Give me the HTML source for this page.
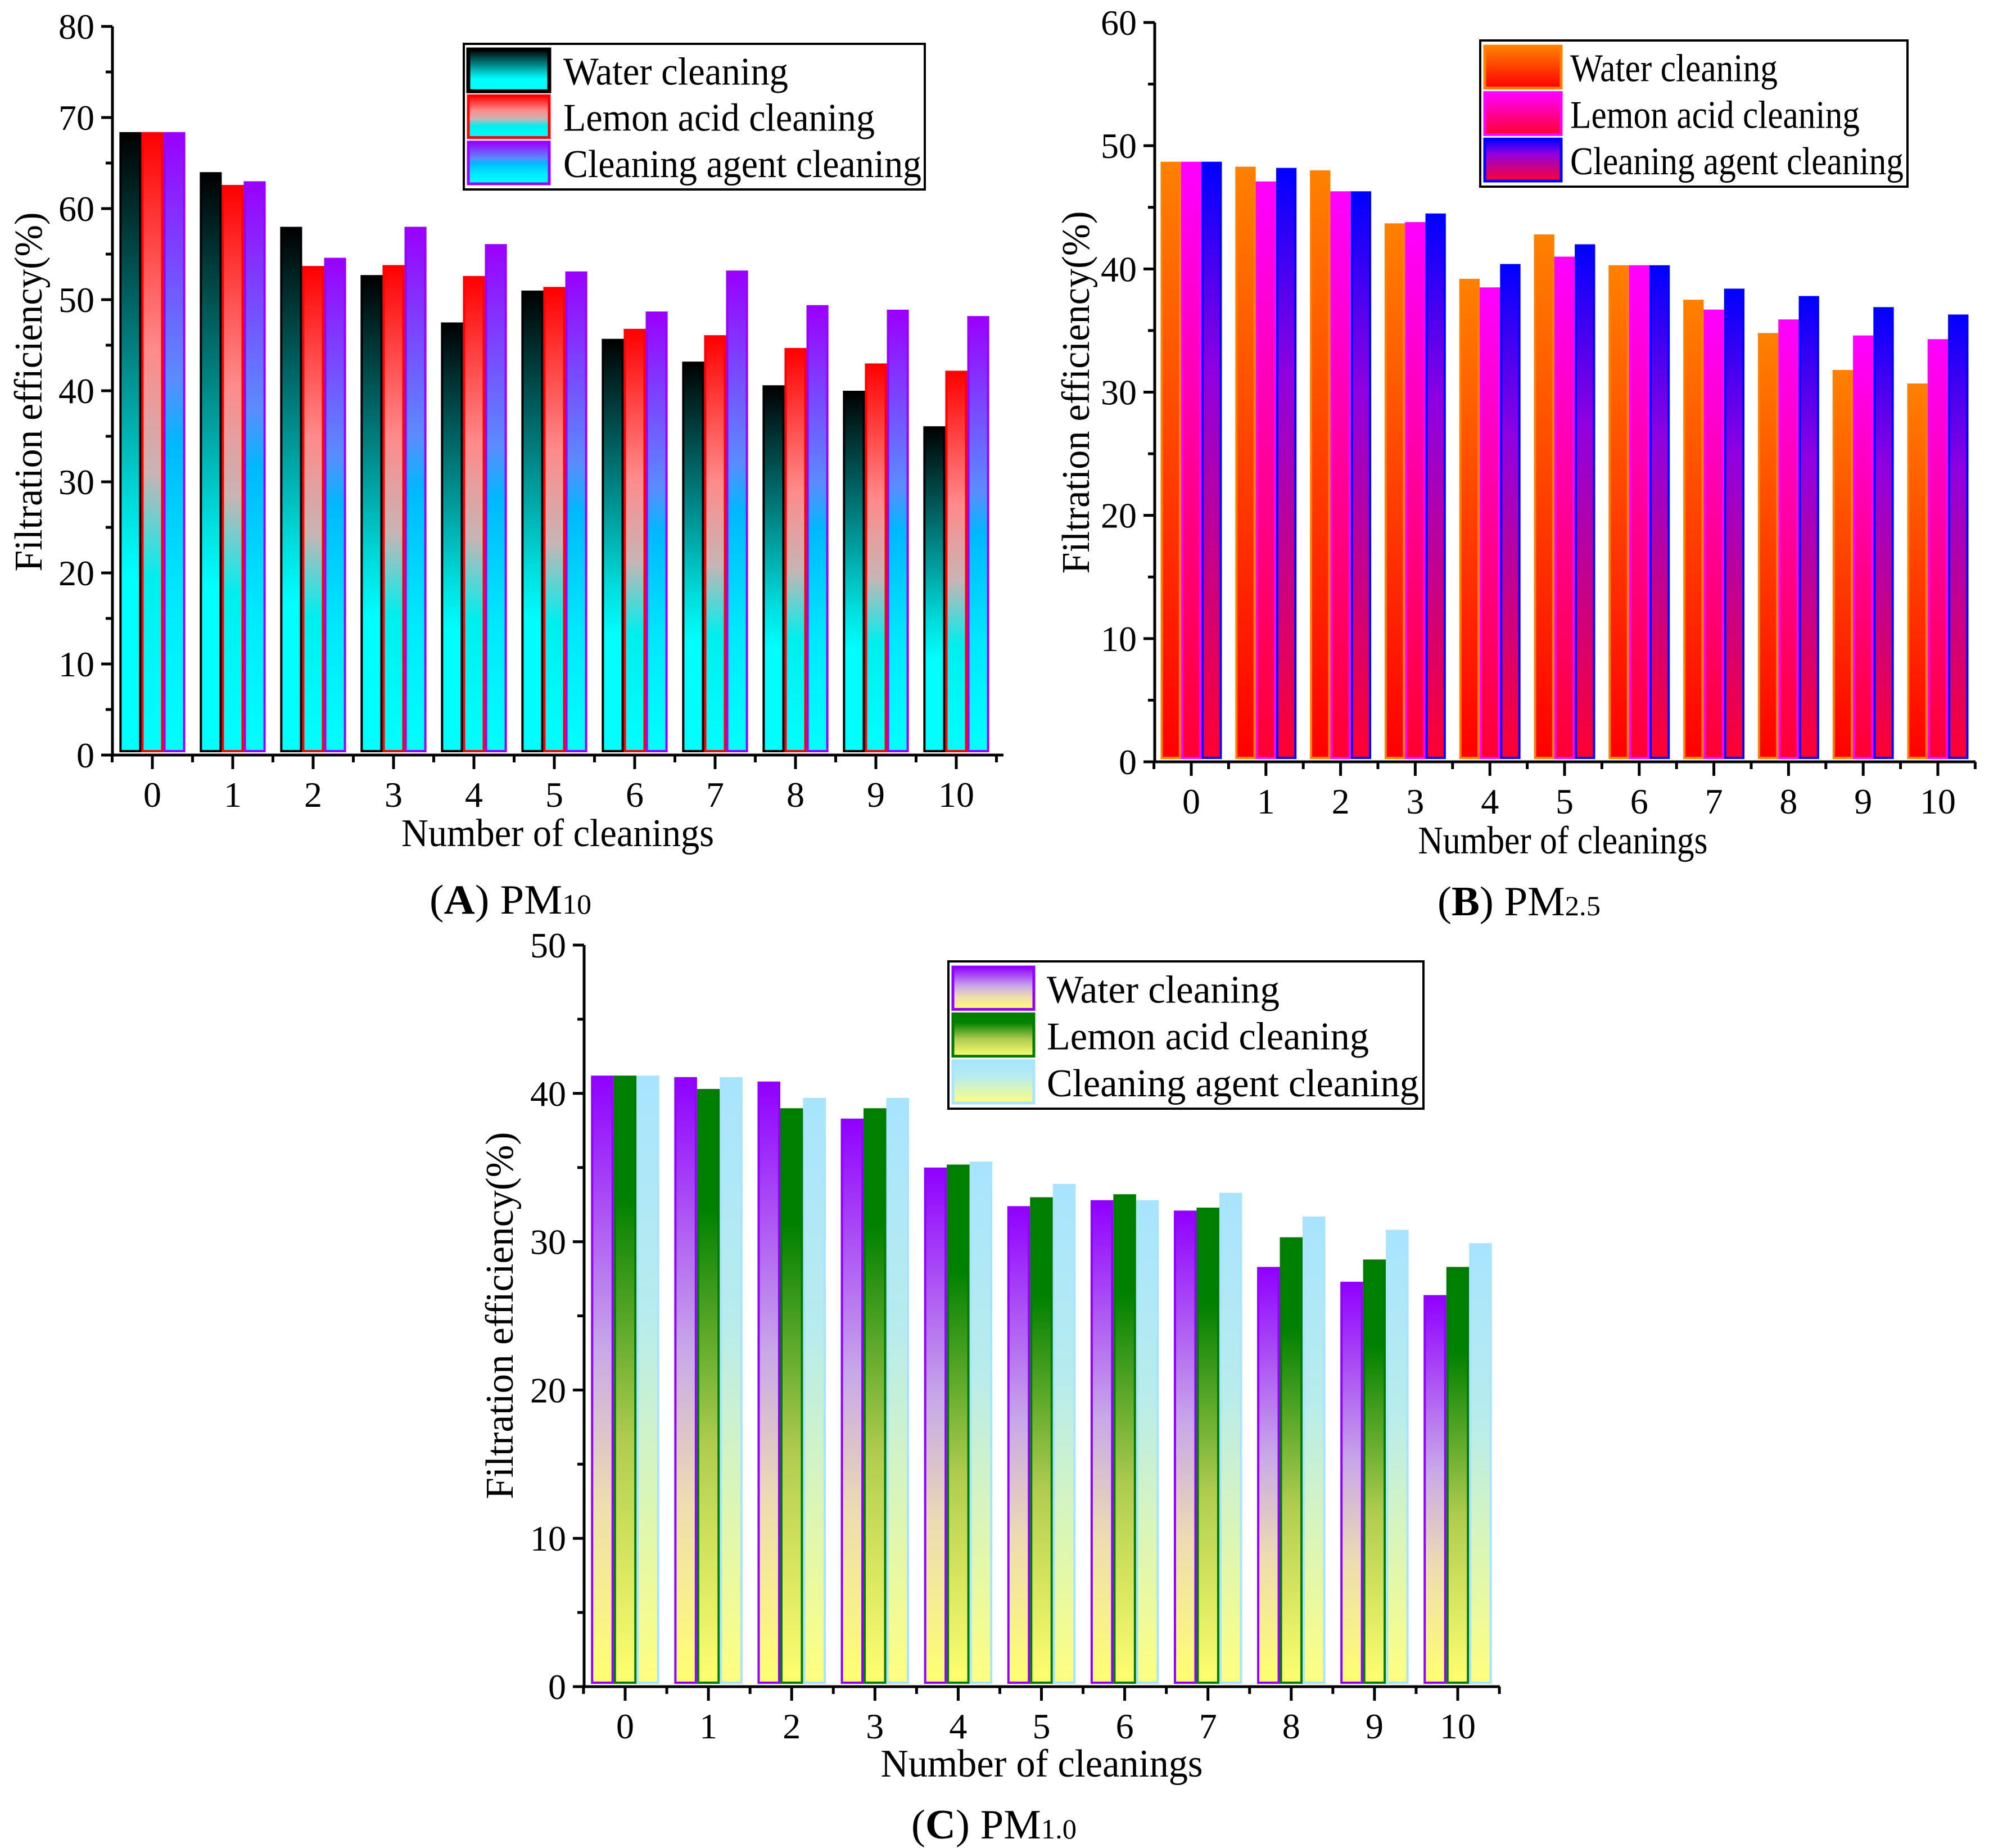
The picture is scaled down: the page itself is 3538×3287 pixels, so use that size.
<!DOCTYPE html>
<html><head><meta charset="utf-8"><style>
html,body{margin:0;padding:0;background:#fff}
svg{display:block}
svg text{font-family:"Liberation Serif","DejaVu Serif",serif}
</style></head><body>
<svg id="fig" width="3538" height="3287" viewBox="0 0 3538 3287" xmlns="http://www.w3.org/2000/svg" font-family="Liberation Serif, DejaVu Serif, serif">
<defs>
<linearGradient id="gA0" x1="0" y1="0" x2="0" y2="1"><stop offset="0" stop-color="#000"/><stop offset="0.6" stop-color="#00dcdc"/><stop offset="0.72" stop-color="#00ffff"/><stop offset="1" stop-color="#00ffff"/></linearGradient>
<linearGradient id="gA1" x1="0" y1="0" x2="0" y2="1"><stop offset="0" stop-color="#ff0000"/><stop offset="0.35" stop-color="#ff8a8a"/><stop offset="0.55" stop-color="#c8b4b4"/><stop offset="0.72" stop-color="#00eeee"/><stop offset="1" stop-color="#00ffff"/></linearGradient>
<linearGradient id="gA2" x1="0" y1="0" x2="0" y2="1"><stop offset="0" stop-color="#9a00ff"/><stop offset="0.4" stop-color="#5a8cff"/><stop offset="0.5" stop-color="#00b8ff"/><stop offset="0.75" stop-color="#00e8ff"/><stop offset="1" stop-color="#00ffff"/></linearGradient>
<linearGradient id="gB0" x1="0" y1="0" x2="0" y2="1"><stop offset="0" stop-color="#ff8000"/><stop offset="1" stop-color="#ff0000"/></linearGradient>
<linearGradient id="gB1" x1="0" y1="0" x2="0" y2="1"><stop offset="0" stop-color="#ff00ff"/><stop offset="1" stop-color="#ff0030"/></linearGradient>
<linearGradient id="gB2" x1="0" y1="0" x2="0" y2="1"><stop offset="0" stop-color="#0000ff"/><stop offset="0.35" stop-color="#9000e0"/><stop offset="1" stop-color="#ff0030"/></linearGradient>
<linearGradient id="gC0" x1="0" y1="0" x2="0" y2="1"><stop offset="0" stop-color="#9000ff"/><stop offset="0.45" stop-color="#c8a8e8"/><stop offset="0.7" stop-color="#eedcb0"/><stop offset="1" stop-color="#ffff70"/></linearGradient>
<linearGradient id="gC1" x1="0" y1="0" x2="0" y2="1"><stop offset="0" stop-color="#008000"/><stop offset="0.2" stop-color="#008000"/><stop offset="0.6" stop-color="#b0cc50"/><stop offset="1" stop-color="#ffff70"/></linearGradient>
<linearGradient id="gC2" x1="0" y1="0" x2="0" y2="1"><stop offset="0" stop-color="#a8e4ff"/><stop offset="0.4" stop-color="#b8ecec"/><stop offset="1" stop-color="#ffff80"/></linearGradient>
</defs>
</svg>
<script>
const categories = [0,1,2,3,4,5,6,7,8,9,10];
const seriesNames = ["Water cleaning","Lemon acid cleaning","Cleaning agent cleaning"];
const pm10Water  = [68.4,64.0,58.0,52.7,47.5,51.0,45.7,43.2,40.6,40.0,36.1];
const pm10Lemon  = [68.4,62.6,53.7,53.8,52.6,51.4,46.8,46.1,44.7,43.0,42.2];
const pm10Agent  = [68.4,63.0,54.6,58.0,56.1,53.1,48.7,53.2,49.4,48.9,48.2];
const pm25Water  = [48.7,48.3,48.0,43.7,39.2,42.8,40.3,37.5,34.8,31.8,30.7];
const pm25Lemon  = [48.7,47.1,46.3,43.8,38.5,41.0,40.3,36.7,35.9,34.6,34.3];
const pm25Agent  = [48.7,48.2,46.3,44.5,40.4,42.0,40.3,38.4,37.8,36.9,36.3];
const pm1Water   = [41.2,41.1,40.8,38.3,35.0,32.4,32.8,32.1,28.3,27.3,26.4];
const pm1Lemon   = [41.2,40.3,39.0,39.0,35.2,33.0,33.2,32.3,30.3,28.8,28.3];
const pm1Agent   = [41.2,41.1,39.7,39.7,35.4,33.9,32.8,33.3,31.7,30.8,29.9];
const yTicksA = [0,10,20,30,40,50,60,70,80];
const yTicksB = [0,10,20,30,40,50,60];
const yTicksC = [0,10,20,30,40,50];

const NS = "http://www.w3.org/2000/svg";
const FONT = '"Liberation Serif", "DejaVu Serif", serif';
const svg = document.getElementById('fig');
function mk(tag, attrs, parent){const e=document.createElementNS(NS,tag);for(const k in attrs)e.setAttribute(k,attrs[k]);if(tag==='text')e.style.fontFamily=FONT;(parent||svg).appendChild(e);return e;}

function drawChart(c){
  const g = mk('g',{});
  
  
  const yMax = c.yTicks[c.yTicks.length-1];
  const ys = v => c.y0 - (c.y0 - c.yTop) * v / yMax;
  const xs = i => c.x0cat + i * c.sp;
  const gw = c.sp * 0.82, bw = gw / 3;
  c.series.forEach((arr, s) => {
    arr.forEach((v, i) => {
      const x = xs(i) - gw/2 + s*bw;
      const top = ys(v), bot = c.y0 - 7;
      const r = mk('rect',{x:x+2,y:top+2,width:bw-4,height:Math.max(0,bot-top-2),fill:'url(#'+c.grads[s]+')',stroke:c.strokes[s],'stroke-width':4},g);
      
      
    });
  });
  const ax = mk('path',{d:`M${c.ax} ${c.yTop} V${c.y0} H${c.xEnd}`,stroke:'#000','stroke-width':5,fill:'none'},g);
  
  
  c.yTicks.forEach((t, k) => {
    const y = ys(t);
    mk('line',{x1:c.ax-20,x2:c.ax,y1:y,y2:y,stroke:'#000','stroke-width':5},g);
    if (k < c.yTicks.length-1) { const ym = ys(t+5); mk('line',{x1:c.ax-12,x2:c.ax,y1:ym,y2:ym,stroke:'#000','stroke-width':5},g); }
    const tx = mk('text',{x:c.ax-32,y:y+22,'text-anchor':'end','font-size':64},g);
    tx.textContent = t;
    
    
  });
  categories.forEach((cat, i) => {
    const x = xs(i);
    mk('line',{x1:x,x2:x,y1:c.y0,y2:c.y0+25,stroke:'#000','stroke-width':5},g);
    mk('line',{x1:x-c.sp/2,x2:x-c.sp/2,y1:c.y0,y2:c.y0+13,stroke:'#000','stroke-width':5},g);
    const tx = mk('text',{x:x,y:c.y0+92,'text-anchor':'middle','font-size':64},g);
    tx.textContent = cat;
    
    
  });
  mk('line',{x1:xs(10)+c.sp/2,x2:xs(10)+c.sp/2,y1:c.y0,y2:c.y0+13,stroke:'#000','stroke-width':5},g);
  const xt = mk('text',{x:c.xtX - c.xtW/2,y:c.xtY,'font-size':70,textLength:c.xtW,lengthAdjust:'spacingAndGlyphs'},g);
  xt.textContent = 'Number of cleanings';
  
  
  const yt = mk('text',{x:-c.ytW/2,y:0,'font-size':70,textLength:c.ytW,lengthAdjust:'spacingAndGlyphs',transform:`translate(${c.ytX},${c.ytY}) rotate(-90)`},g);
  yt.textContent = 'Filtration efficiency(%)';
  
  
  const cap = mk('text',{x:c.capX - c.capW/2,y:c.capY,'font-size':74,textLength:c.capW,lengthAdjust:'spacingAndGlyphs'},g);
  cap.innerHTML = '(<tspan font-weight="bold">' + c.letter + '</tspan>) PM<tspan font-size="50">' + c.sub + '</tspan>';
  
  
  const lg = mk('g',{},g);
  
  
  mk('rect',{x:c.lx,y:c.ly,width:c.lw,height:c.lh,fill:'#fff',stroke:'#000','stroke-width':4},lg);
  const rowH = (c.lh - 12) / 3;
  seriesNames.forEach((n, s) => {
    const ry = c.ly + 8 + s*rowH;
    const sw = mk('rect',{x:c.lx+8,y:ry+2,width:c.swW,height:rowH-8,fill:'url(#'+c.grads[s]+')',stroke:c.strokes[s],'stroke-width':s===0&&c.id==='pm10'?7:5},lg);
    
    
    const t = mk('text',{x:c.lx+c.txOff,y:ry+rowH-18,'font-size':70,textLength:c.legW[s],lengthAdjust:'spacingAndGlyphs'},lg);
    t.textContent = n;
    
    
  });
}

drawChart({id:'pm10',series:[pm10Water,pm10Lemon,pm10Agent],yTicks:yTicksA,grads:['gA0','gA1','gA2'],strokes:['#000','#ff0000','#9a00ff'],
  ax:200,yTop:47,y0:1343,xEnd:1785,x0cat:271,sp:143,xtX:992,xtY:1505,xtW:556,ytX:74,ytY:697,ytW:639,capX:908,capY:1625,capW:288,letter:'A',sub:'10',
  lx:825,ly:78,lw:820,lh:259,legW:[400,554,637],txOff:177,swW:144});
drawChart({id:'pm25',series:[pm25Water,pm25Lemon,pm25Agent],yTicks:yTicksB,grads:['gB0','gB1','gB2'],strokes:['#ff8000','#ff00ff','#0000ff'],
  ax:2054,yTop:40,y0:1355,xEnd:3514,x0cat:2119,sp:132.8,xtX:2780,xtY:1518,xtW:515,ytX:1937,ytY:698,ytW:645,capX:2702,capY:1628,capW:290,letter:'B',sub:'2.5',
  lx:2633,ly:72,lw:760,lh:260,legW:[369,515,593],txOff:160,swW:136});
drawChart({id:'pm1',series:[pm1Water,pm1Lemon,pm1Agent],yTicks:yTicksC,grads:['gC0','gC1','gC2'],strokes:['#9000ff','#007a00','#a8e4ff'],
  ax:1039,yTop:1681,y0:3000,xEnd:2668,x0cat:1112,sp:148.1,xtX:1853,xtY:3160,xtW:573,ytX:912,ytY:2340,ytW:653,capX:1768,capY:3270,capW:294,letter:'C',sub:'1.0',
  lx:1687,ly:1710,lw:845,lh:262,legW:[414,573,662],txOff:175,swW:144});
</script>
</body></html>
